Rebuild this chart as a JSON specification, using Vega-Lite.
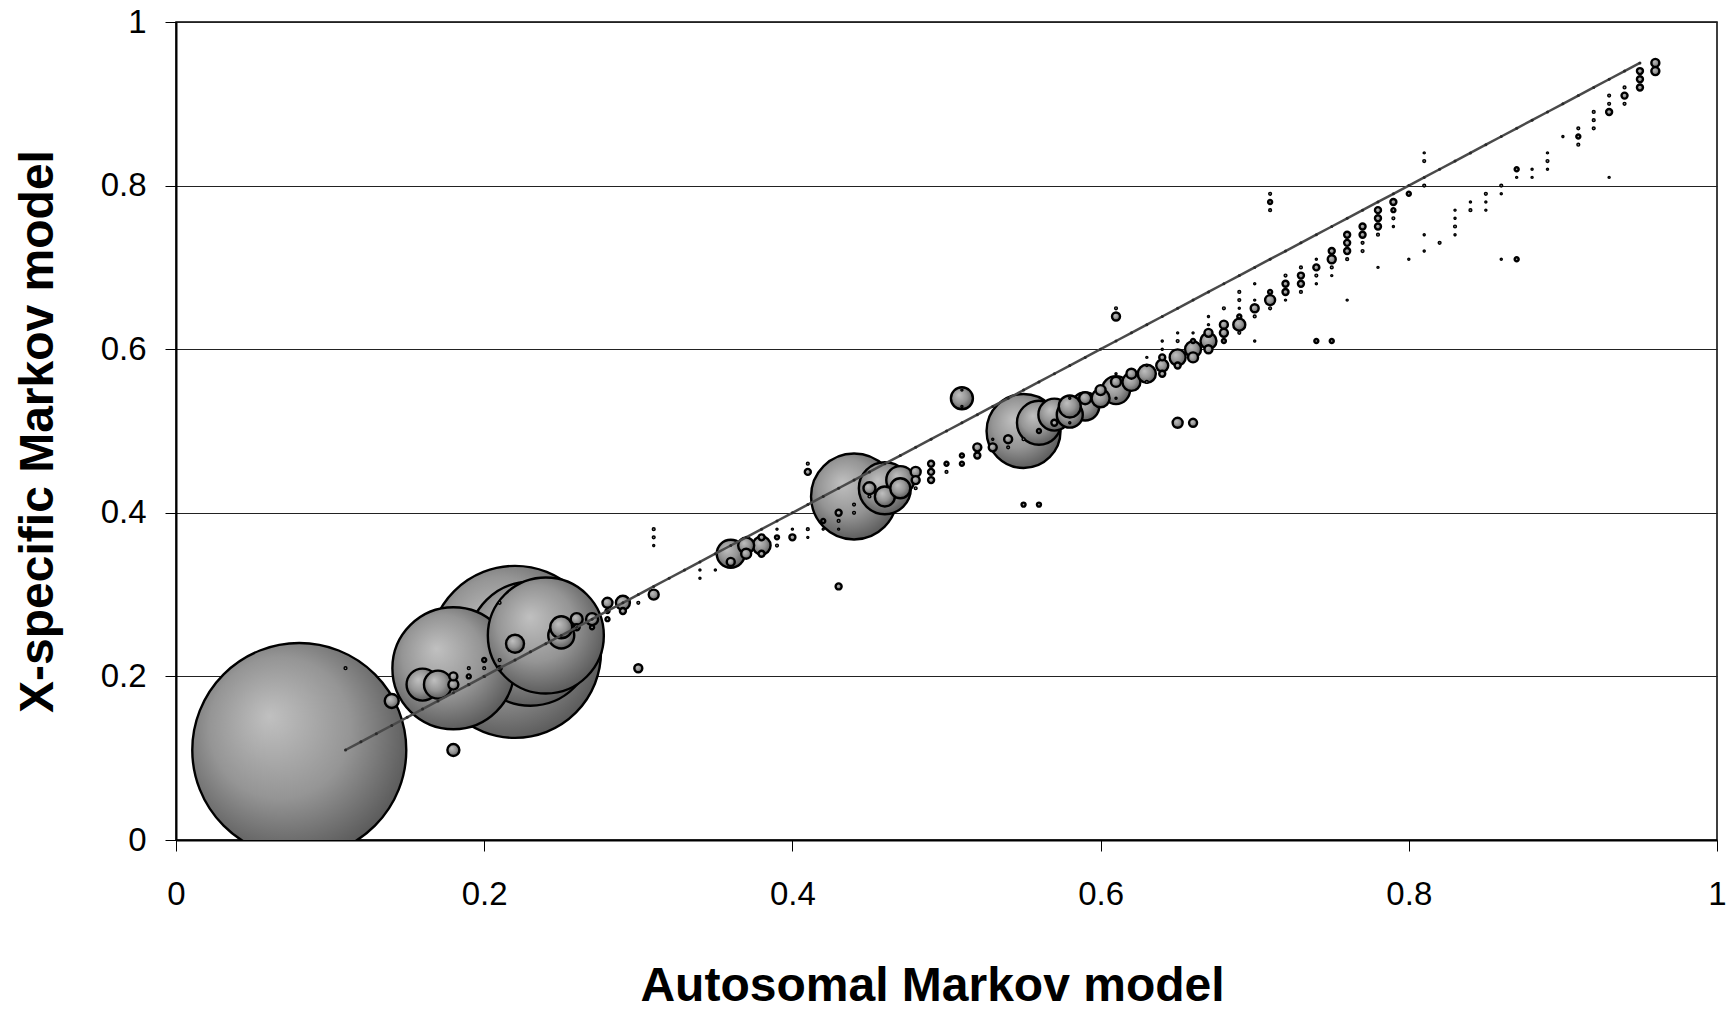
{
  "$schema": "https://vega.github.io/schema/vega-lite/v6.json",
  "width": 1541,
  "height": 818,
  "autosize": {"type": "none"},
  "padding": {"left": 176, "top": 22, "right": 12, "bottom": 173},
  "background": "#ffffff",
  "config": {
    "font": "Liberation Sans",
    "view": {"stroke": "#000000", "strokeWidth": 1.5},
    "axis": {
      "labelFont": "Liberation Sans",
      "titleFont": "Liberation Sans",
      "labelColor": "#000000",
      "titleColor": "#000000",
      "domainColor": "#000000",
      "domainWidth": 2,
      "tickColor": "#000000",
      "tickWidth": 1,
      "tickSize": 11,
      "labelFontSize": 33,
      "titleFontSize": 48,
      "titleFontWeight": "bold",
      "labelFlush": false,
      "labelOverlap": false
    }
  },
  "datasets": {
    "bubbles": [
      {"x":0.08,"y":0.11,"n":11449},{"x":0.11,"y":0.21,"n":2},{"x":0.14,"y":0.17,"n":49},{"x":0.16,"y":0.19,"n":256},{"x":0.17,"y":0.19,"n":196},
      {"x":0.18,"y":0.21,"n":3721},{"x":0.18,"y":0.20,"n":16},{"x":0.18,"y":0.19,"n":25},{"x":0.18,"y":0.11,"n":36},{"x":0.19,"y":0.21,"n":2},
      {"x":0.19,"y":0.20,"n":4},{"x":0.19,"y":0.19,"n":1},{"x":0.20,"y":0.22,"n":4},{"x":0.20,"y":0.21,"n":2},{"x":0.20,"y":0.20,"n":1},
      {"x":0.21,"y":0.22,"n":2},{"x":0.21,"y":0.21,"n":4},{"x":0.21,"y":0.29,"n":2},{"x":0.22,"y":0.23,"n":7396},{"x":0.23,"y":0.24,"n":3844},
      {"x":0.24,"y":0.25,"n":3364},{"x":0.22,"y":0.24,"n":81},{"x":0.25,"y":0.26,"n":121},{"x":0.25,"y":0.25,"n":169},{"x":0.26,"y":0.27,"n":36},
      {"x":0.26,"y":0.26,"n":9},{"x":0.27,"y":0.27,"n":36},{"x":0.27,"y":0.26,"n":4},{"x":0.28,"y":0.29,"n":25},{"x":0.28,"y":0.28,"n":4},
      {"x":0.28,"y":0.27,"n":4},{"x":0.29,"y":0.29,"n":49},{"x":0.29,"y":0.28,"n":9},{"x":0.30,"y":0.29,"n":2},{"x":0.30,"y":0.21,"n":16},
      {"x":0.31,"y":0.30,"n":25},{"x":0.31,"y":0.38,"n":2},{"x":0.31,"y":0.37,"n":2},{"x":0.31,"y":0.36,"n":1},
      {"x":0.34,"y":0.33,"n":1},{"x":0.34,"y":0.32,"n":1},{"x":0.35,"y":0.33,"n":1},
      {"x":0.36,"y":0.35,"n":196},{"x":0.36,"y":0.34,"n":16},{"x":0.37,"y":0.36,"n":64},{"x":0.37,"y":0.35,"n":25},
      {"x":0.38,"y":0.36,"n":81},{"x":0.38,"y":0.37,"n":9},{"x":0.38,"y":0.35,"n":9},
      {"x":0.39,"y":0.37,"n":4},{"x":0.39,"y":0.36,"n":2},{"x":0.39,"y":0.38,"n":1},
      {"x":0.40,"y":0.37,"n":9},{"x":0.40,"y":0.38,"n":1},
      {"x":0.41,"y":0.38,"n":2},{"x":0.41,"y":0.37,"n":1},{"x":0.41,"y":0.45,"n":9},{"x":0.41,"y":0.46,"n":2},
      {"x":0.42,"y":0.39,"n":4},{"x":0.42,"y":0.38,"n":1},
      {"x":0.43,"y":0.31,"n":9},{"x":0.43,"y":0.40,"n":9},{"x":0.43,"y":0.39,"n":2},{"x":0.43,"y":0.38,"n":1},
      {"x":0.44,"y":0.41,"n":2},{"x":0.44,"y":0.40,"n":2},{"x":0.44,"y":0.42,"n":1849},
      {"x":0.46,"y":0.43,"n":676},{"x":0.45,"y":0.43,"n":36},{"x":0.45,"y":0.42,"n":2},{"x":0.46,"y":0.42,"n":100},
      {"x":0.47,"y":0.43,"n":100},{"x":0.47,"y":0.44,"n":196},
      {"x":0.48,"y":0.45,"n":25},{"x":0.48,"y":0.44,"n":16},{"x":0.48,"y":0.43,"n":2},
      {"x":0.49,"y":0.46,"n":9},{"x":0.49,"y":0.45,"n":9},{"x":0.49,"y":0.44,"n":9},
      {"x":0.50,"y":0.46,"n":4},{"x":0.50,"y":0.45,"n":2},
      {"x":0.51,"y":0.47,"n":4},{"x":0.51,"y":0.46,"n":4},{"x":0.51,"y":0.54,"n":121},{"x":0.51,"y":0.55,"n":1},{"x":0.51,"y":0.53,"n":1},
      {"x":0.52,"y":0.48,"n":16},{"x":0.52,"y":0.47,"n":9},
      {"x":0.53,"y":0.48,"n":16},{"x":0.53,"y":0.49,"n":1},
      {"x":0.54,"y":0.49,"n":16},{"x":0.54,"y":0.48,"n":2},
      {"x":0.55,"y":0.50,"n":1369},{"x":0.55,"y":0.49,"n":2},{"x":0.55,"y":0.41,"n":4},{"x":0.56,"y":0.41,"n":4},
      {"x":0.56,"y":0.51,"n":484},{"x":0.56,"y":0.50,"n":4},
      {"x":0.57,"y":0.52,"n":256},{"x":0.57,"y":0.51,"n":9},
      {"x":0.58,"y":0.53,"n":121},{"x":0.58,"y":0.52,"n":169},{"x":0.58,"y":0.54,"n":1},{"x":0.58,"y":0.51,"n":1},
      {"x":0.59,"y":0.54,"n":36},{"x":0.59,"y":0.53,"n":196},
      {"x":0.60,"y":0.55,"n":25},{"x":0.60,"y":0.54,"n":81},
      {"x":0.61,"y":0.56,"n":25},{"x":0.61,"y":0.55,"n":196},{"x":0.61,"y":0.54,"n":1},{"x":0.61,"y":0.57,"n":1},{"x":0.61,"y":0.64,"n":16},{"x":0.61,"y":0.65,"n":2},
      {"x":0.62,"y":0.57,"n":25},{"x":0.62,"y":0.56,"n":81},
      {"x":0.63,"y":0.57,"n":81},{"x":0.63,"y":0.56,"n":2},{"x":0.63,"y":0.58,"n":1},{"x":0.63,"y":0.59,"n":1},
      {"x":0.64,"y":0.58,"n":36},{"x":0.64,"y":0.59,"n":9},{"x":0.64,"y":0.57,"n":9},{"x":0.64,"y":0.60,"n":1},{"x":0.64,"y":0.61,"n":1},
      {"x":0.65,"y":0.59,"n":64},{"x":0.65,"y":0.58,"n":9},{"x":0.65,"y":0.61,"n":2},{"x":0.65,"y":0.62,"n":1},{"x":0.65,"y":0.51,"n":25},
      {"x":0.66,"y":0.60,"n":64},{"x":0.66,"y":0.59,"n":25},{"x":0.66,"y":0.61,"n":4},{"x":0.66,"y":0.62,"n":1},{"x":0.66,"y":0.51,"n":16},
      {"x":0.67,"y":0.61,"n":64},{"x":0.67,"y":0.60,"n":16},{"x":0.67,"y":0.62,"n":16},{"x":0.67,"y":0.63,"n":1},{"x":0.67,"y":0.64,"n":1},
      {"x":0.68,"y":0.63,"n":16},{"x":0.68,"y":0.62,"n":16},{"x":0.68,"y":0.61,"n":4},{"x":0.68,"y":0.65,"n":2},
      {"x":0.69,"y":0.63,"n":36},{"x":0.69,"y":0.64,"n":4},{"x":0.69,"y":0.65,"n":1},{"x":0.69,"y":0.66,"n":2},{"x":0.69,"y":0.67,"n":2},{"x":0.69,"y":0.62,"n":2},
      {"x":0.70,"y":0.65,"n":16},{"x":0.70,"y":0.64,"n":2},{"x":0.70,"y":0.66,"n":1},{"x":0.70,"y":0.68,"n":1},{"x":0.70,"y":0.61,"n":1},
      {"x":0.71,"y":0.66,"n":25},{"x":0.71,"y":0.67,"n":4},{"x":0.71,"y":0.65,"n":2},{"x":0.71,"y":0.79,"n":2},{"x":0.71,"y":0.78,"n":4},{"x":0.71,"y":0.77,"n":2},
      {"x":0.72,"y":0.67,"n":9},{"x":0.72,"y":0.68,"n":9},{"x":0.72,"y":0.69,"n":2},{"x":0.72,"y":0.66,"n":1},
      {"x":0.73,"y":0.69,"n":9},{"x":0.73,"y":0.68,"n":9},{"x":0.73,"y":0.70,"n":2},{"x":0.73,"y":0.67,"n":2},
      {"x":0.74,"y":0.70,"n":9},{"x":0.74,"y":0.69,"n":2},{"x":0.74,"y":0.68,"n":1},{"x":0.74,"y":0.71,"n":1},{"x":0.74,"y":0.61,"n":4},
      {"x":0.75,"y":0.71,"n":16},{"x":0.75,"y":0.72,"n":9},{"x":0.75,"y":0.70,"n":2},{"x":0.75,"y":0.69,"n":1},{"x":0.75,"y":0.61,"n":4},
      {"x":0.76,"y":0.74,"n":9},{"x":0.76,"y":0.73,"n":9},{"x":0.76,"y":0.72,"n":9},{"x":0.76,"y":0.71,"n":2},{"x":0.76,"y":0.66,"n":1},
      {"x":0.77,"y":0.75,"n":9},{"x":0.77,"y":0.74,"n":9},{"x":0.77,"y":0.73,"n":2},{"x":0.77,"y":0.72,"n":2},
      {"x":0.78,"y":0.77,"n":9},{"x":0.78,"y":0.76,"n":9},{"x":0.78,"y":0.75,"n":9},{"x":0.78,"y":0.74,"n":2},{"x":0.78,"y":0.70,"n":1},
      {"x":0.79,"y":0.78,"n":9},{"x":0.79,"y":0.77,"n":4},{"x":0.79,"y":0.76,"n":2},{"x":0.79,"y":0.75,"n":1},
      {"x":0.80,"y":0.79,"n":4},{"x":0.80,"y":0.71,"n":1},
      {"x":0.81,"y":0.84,"n":1},{"x":0.81,"y":0.83,"n":2},{"x":0.81,"y":0.80,"n":2},{"x":0.81,"y":0.74,"n":1},{"x":0.81,"y":0.72,"n":1},
      {"x":0.82,"y":0.73,"n":2},
      {"x":0.83,"y":0.77,"n":1},{"x":0.83,"y":0.76,"n":1},{"x":0.83,"y":0.75,"n":2},{"x":0.83,"y":0.74,"n":1},
      {"x":0.84,"y":0.78,"n":1},{"x":0.84,"y":0.77,"n":2},
      {"x":0.85,"y":0.79,"n":2},{"x":0.85,"y":0.78,"n":1},{"x":0.85,"y":0.77,"n":1},
      {"x":0.86,"y":0.80,"n":2},{"x":0.86,"y":0.79,"n":1},{"x":0.86,"y":0.71,"n":1},
      {"x":0.87,"y":0.82,"n":4},{"x":0.87,"y":0.81,"n":1},{"x":0.87,"y":0.71,"n":4},
      {"x":0.88,"y":0.82,"n":1},{"x":0.88,"y":0.81,"n":1},
      {"x":0.89,"y":0.84,"n":1},{"x":0.89,"y":0.83,"n":2},{"x":0.89,"y":0.82,"n":1},
      {"x":0.90,"y":0.86,"n":1},
      {"x":0.91,"y":0.87,"n":2},{"x":0.91,"y":0.86,"n":4},{"x":0.91,"y":0.85,"n":2},
      {"x":0.92,"y":0.89,"n":2},{"x":0.92,"y":0.88,"n":2},{"x":0.92,"y":0.87,"n":2},
      {"x":0.93,"y":0.91,"n":2},{"x":0.93,"y":0.90,"n":2},{"x":0.93,"y":0.89,"n":9},{"x":0.93,"y":0.81,"n":1},
      {"x":0.94,"y":0.92,"n":2},{"x":0.94,"y":0.91,"n":9},{"x":0.94,"y":0.90,"n":2},
      {"x":0.95,"y":0.94,"n":9},{"x":0.95,"y":0.93,"n":9},{"x":0.95,"y":0.92,"n":9},
      {"x":0.96,"y":0.95,"n":16},{"x":0.96,"y":0.94,"n":16}
    ],
    "diag": [
      {"x":0.11,"y":0.11},{"x":0.12,"y":0.12},{"x":0.13,"y":0.13},{"x":0.14,"y":0.14},{"x":0.15,"y":0.15},{"x":0.16,"y":0.16},{"x":0.17,"y":0.17},{"x":0.18,"y":0.18},{"x":0.19,"y":0.19},{"x":0.20,"y":0.20},
      {"x":0.21,"y":0.21},{"x":0.22,"y":0.22},{"x":0.23,"y":0.23},{"x":0.24,"y":0.24},{"x":0.25,"y":0.25},{"x":0.26,"y":0.26},{"x":0.27,"y":0.27},{"x":0.28,"y":0.28},{"x":0.29,"y":0.29},{"x":0.30,"y":0.30},
      {"x":0.31,"y":0.31},{"x":0.32,"y":0.32},{"x":0.33,"y":0.33},{"x":0.34,"y":0.34},{"x":0.35,"y":0.35},{"x":0.36,"y":0.36},{"x":0.37,"y":0.37},{"x":0.38,"y":0.38},{"x":0.39,"y":0.39},{"x":0.40,"y":0.40},
      {"x":0.41,"y":0.41},{"x":0.42,"y":0.42},{"x":0.43,"y":0.43},{"x":0.44,"y":0.44},{"x":0.45,"y":0.45},{"x":0.46,"y":0.46},{"x":0.47,"y":0.47},{"x":0.48,"y":0.48},{"x":0.49,"y":0.49},{"x":0.50,"y":0.50},
      {"x":0.51,"y":0.51},{"x":0.52,"y":0.52},{"x":0.53,"y":0.53},{"x":0.54,"y":0.54},{"x":0.55,"y":0.55},{"x":0.56,"y":0.56},{"x":0.57,"y":0.57},{"x":0.58,"y":0.58},{"x":0.59,"y":0.59},{"x":0.60,"y":0.60},
      {"x":0.61,"y":0.61},{"x":0.62,"y":0.62},{"x":0.63,"y":0.63},{"x":0.64,"y":0.64},{"x":0.65,"y":0.65},{"x":0.66,"y":0.66},{"x":0.67,"y":0.67},{"x":0.68,"y":0.68},{"x":0.69,"y":0.69},{"x":0.70,"y":0.70},
      {"x":0.71,"y":0.71},{"x":0.72,"y":0.72},{"x":0.73,"y":0.73},{"x":0.74,"y":0.74},{"x":0.75,"y":0.75},{"x":0.76,"y":0.76},{"x":0.77,"y":0.77},{"x":0.78,"y":0.78},{"x":0.79,"y":0.79},{"x":0.80,"y":0.80},
      {"x":0.81,"y":0.81},{"x":0.82,"y":0.82},{"x":0.83,"y":0.83},{"x":0.84,"y":0.84},{"x":0.85,"y":0.85},{"x":0.86,"y":0.86},{"x":0.87,"y":0.87},{"x":0.88,"y":0.88},{"x":0.89,"y":0.89},{"x":0.90,"y":0.90},
      {"x":0.91,"y":0.91},{"x":0.92,"y":0.92},{"x":0.93,"y":0.93},{"x":0.94,"y":0.94},{"x":0.95,"y":0.95}
    ]
  },
  "encoding": {
    "x": {
      "field": "x", "type": "quantitative",
      "scale": {"domain": [0, 1], "nice": false, "zero": true},
      "axis": {
        "title": "Autosomal Markov model",
        "values": [0, 0.2, 0.4, 0.6, 0.8, 1],
        "format": "~g",
        "grid": false,
        "labelPadding": 27,
        "titleBaseline": "alphabetic",
        "titleAlign": "center",
        "titleX": 756,
        "titleY": 160
      }
    },
    "y": {
      "field": "y", "type": "quantitative",
      "scale": {"domain": [0, 1], "nice": false, "zero": true},
      "axis": {
        "title": "X-specific Markov model",
        "values": [0, 0.2, 0.4, 0.6, 0.8, 1],
        "format": "~g",
        "grid": true,
        "gridColor": "#222222",
        "gridWidth": 1.2,
        "labelPadding": 19,
        "titleAngle": -90,
        "titleBaseline": "alphabetic",
        "titleX": -124
      }
    }
  },
  "layer": [
    {
      "data": {"name": "bubbles"},
      "transform": [{"filter": "datum.n >= 3"}],
      "mark": {
        "type": "circle",
        "clip": true,
        "opacity": 1,
        "stroke": "#000000",
        "strokeWidth": 2.4,
        "fill": {
          "gradient": "radial",
          "x1": 0.36, "y1": 0.34, "r1": 0,
          "x2": 0.45, "y2": 0.44, "r2": 0.6,
          "stops": [
            {"offset": 0, "color": "#c0c0c0"},
            {"offset": 0.55, "color": "#959595"},
            {"offset": 1, "color": "#565656"}
          ]
        }
      },
      "encoding": {
        "size": {
          "field": "n", "type": "quantitative", "legend": null,
          "scale": {"type": "linear", "domain": [0, 11449], "range": [0, 45796]}
        },
        "order": {"field": "n", "type": "quantitative", "sort": "descending"}
      }
    },
    {
      "data": {"name": "bubbles"},
      "transform": [{"filter": "datum.n < 3"}],
      "mark": {
        "type": "circle",
        "opacity": 1,
        "stroke": "#000000",
        "strokeWidth": 1.4,
        "fill": "#8a8a8a"
      },
      "encoding": {
        "size": {
          "field": "n", "type": "quantitative", "legend": null,
          "scale": {"type": "linear", "domain": [0, 11449], "range": [0, 45796]}
        }
      }
    },
    {
      "data": {"name": "diag"},
      "mark": {
        "type": "line",
        "color": "#4a4a4a",
        "strokeWidth": 2.5,
        "point": {"filled": true, "size": 9, "color": "#2a2a2a"}
      },
      "encoding": {}
    }
  ]
}
